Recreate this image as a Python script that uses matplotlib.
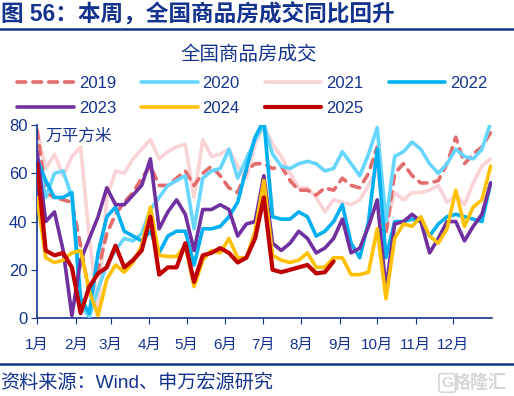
import numpy as np
import matplotlib
matplotlib.use("Agg")
import matplotlib.pyplot as plt
from matplotlib.lines import Line2D

plt.rcParams['font.family'] = ['Liberation Sans', 'Noto Sans CJK SC', 'DejaVu Sans']

# weekly samples, day of year
week_day = np.arange(53) * 7

month_start = [0, 31, 59, 90, 120, 151, 181, 212, 243, 273, 304, 334]
month_labels = ['1月', '2月', '3月', '4月', '5月', '6月', '7月', '8月', '9月', '10月', '11月', '12月']

y2019 = [78, 52, 50, 49, 48, 30, 10, 20, 35, 43, 48, 52, 58, 63,
         55, 55, 58, 61, 55, 60, 63, 59, 54, 52, 61, 64, 64,
         62, 63, 57, 53, 53, 51, 54, 53, 58, 55, 54, 60, 71,
         35, 60, 64, 59, 56, 56, 57, 64, 75, 64, 68, 71, 77]
y2020 = [68, 50, 60, 61, 50, 5, 0.5, 12, 22, 28, 33, 32, 35, 45,
         50, 55, 57, 59, 37, 58, 61, 62, 70, 58, 66, 74, 80,
         68, 63, 62, 64, 65, 64, 61, 62, 69, 64, 59, 68, 79,
         40, 67, 69, 73, 70, 64, 60, 64, 70, 67, 66, 70, 81]
y2021 = [78, 62, 68, 59, 67, 71, 33, 4, 50, 61, 60, 66, 70, 74,
         66, 69, 71, 72, 50, 74, 67, 68, 70, 63, 58, 72, 80,
         72, 67, 60, 54, 54, 50, 44, 49, 48, 47, 49, 55, 62,
         38, 52, 49, 52, 52, 53, 55, 48, 51, 47, 56, 63, 66]
y2022 = [66, 57, 50, 50, 52, 8, 2, 27, 42, 46, 36, 34, 32, 36,
         27, 34, 36, 36, 22, 37, 37, 38, 42, 48, 62, 75, 82,
         42, 41, 41, 44, 42, 34, 36, 40, 47, 31, 25, 40, 70,
         25, 40, 40, 41, 40, 34, 39, 42, 43, 42, 41, 40, 56]
y2023 = [69, 40, 44, 28, 1, 24, 33, 42, 54, 47, 47, 51, 55, 66,
         37, 44, 49, 43, 28, 45, 45, 47, 45, 34, 39, 40, 59,
         31, 28, 31, 36, 33, 27, 29, 33, 41, 27, 29, 38, 49,
         12, 39, 40, 43, 40, 27, 33, 40, 40, 32, 38, 43, 56]
y2024 = [50, 25, 23, 24, 27, 28, 11, 1, 16, 22, 19, 23, 30, 46,
         26, 25.5, 25.5, 30, 13, 24, 28, 27, 33, 25, 25, 36, 57,
         26, 24, 23, 24, 27, 21, 21, 25, 25, 18, 18, 19, 37,
         8, 33, 39, 38, 42, 34, 31, 37, 53, 38, 46, 49, 63]
y2025 = [64, 28, 26, 27, 21, 2, 13, 18.5, 21, 30, 21, 24, 28, 42,
         18, 21, 21, 31, 15, 26, 27, 29, 27, 23, 25, 33, 50,
         20, 19, 20, 21, 22, 18.5, 19, 23.5]

navy = '#14338F'
series = [
    ('2019', y2019, '#E46C6C'),
    ('2020', y2020, '#66D6FF'),
    ('2021', y2021, '#F9D3D5'),
    ('2022', y2022, '#00B0F0'),
    ('2023', y2023, '#7030A0'),
    ('2024', y2024, '#FFC000'),
    ('2025', y2025, '#C00000'),
]
draw_order = {'2021': 1, '2019': 2, '2020': 3, '2022': 4, '2023': 5, '2024': 6, '2025': 7}

fig = plt.figure(figsize=(5.14, 3.96), dpi=100)
ax = fig.add_axes([0.072, 0.197, 0.885, 0.487])

handles = {}
for name, vals, col in series:
    x = week_day[:len(vals)]
    lw = 3.0 if name == '2025' else 2.6
    if name == '2019':
        ln, = ax.plot(x, vals, color=col, lw=lw, dashes=(2.4, 2.0),
                      dash_capstyle='round', zorder=draw_order[name])
    else:
        ln, = ax.plot(x, vals, color=col, lw=lw, solid_capstyle='round',
                      zorder=draw_order[name])
    handles[name] = ln

ax.set_xlim(0, 365)
ax.set_ylim(0, 80)
ax.set_yticks([0, 20, 40, 60, 80])
ax.set_xticks(month_start)
ax.set_xticklabels(month_labels)
ax.tick_params(axis='y', colors=navy, labelsize=12, direction='out', length=4, pad=3)
ax.tick_params(axis='x', colors=navy, labelsize=11, direction='out', length=4, pad=10)
for s in ['top', 'right']:
    ax.spines[s].set_visible(False)
for s in ['left', 'bottom']:
    ax.spines[s].set_color(navy)
    ax.spines[s].set_linewidth(1.2)

ax.text(0.018, 0.94, '万平方米', transform=ax.transAxes, color=navy,
        fontsize=12, va='center', ha='left')

# legend, row-major over 4 columns
order = ['2019', '2023', '2020', '2024', '2021', '2025', '2022']
leg = fig.legend([handles[k] for k in order], order, loc='center left',
                 bbox_to_anchor=(0.033, 0.758), ncol=4, frameon=False,
                 fontsize=12, handlelength=3.4, handletextpad=0.3,
                 columnspacing=1.5, labelspacing=0.6, borderpad=0,
                 borderaxespad=0)
for t in leg.get_texts():
    t.set_color(navy)

fig.text(0.484, 0.861, '全国商品房成交', color=navy, fontsize=14,
         ha='center', va='center')

fig.text(0.002, 0.962, '图 56：本周，全国商品房成交同比回升', color=navy,
         fontsize=16.3, weight='bold', ha='left', va='center')
fig.add_artist(Line2D([0, 1], [0.927, 0.927], transform=fig.transFigure,
                      color=navy, lw=1.8))
fig.add_artist(Line2D([0, 1], [0.081, 0.081], transform=fig.transFigure,
                      color=navy, lw=1.8))
fig.text(0.0, 0.033, '资料来源：Wind、申万宏源研究', color=navy, fontsize=13.8,
         ha='left', va='center')
fig.text(0.985, 0.033, '格隆汇', color='#D6D6D6', fontsize=13, weight='bold',
         ha='right', va='center')
fig.text(0.87, 0.033, 'G', color='#D6D6D6', fontsize=11, weight='bold',
         ha='center', va='center',
         bbox=dict(boxstyle='round,pad=0.15', fc='none', ec='#D6D6D6', lw=1.2))

fig.savefig('out.png', dpi=100)
